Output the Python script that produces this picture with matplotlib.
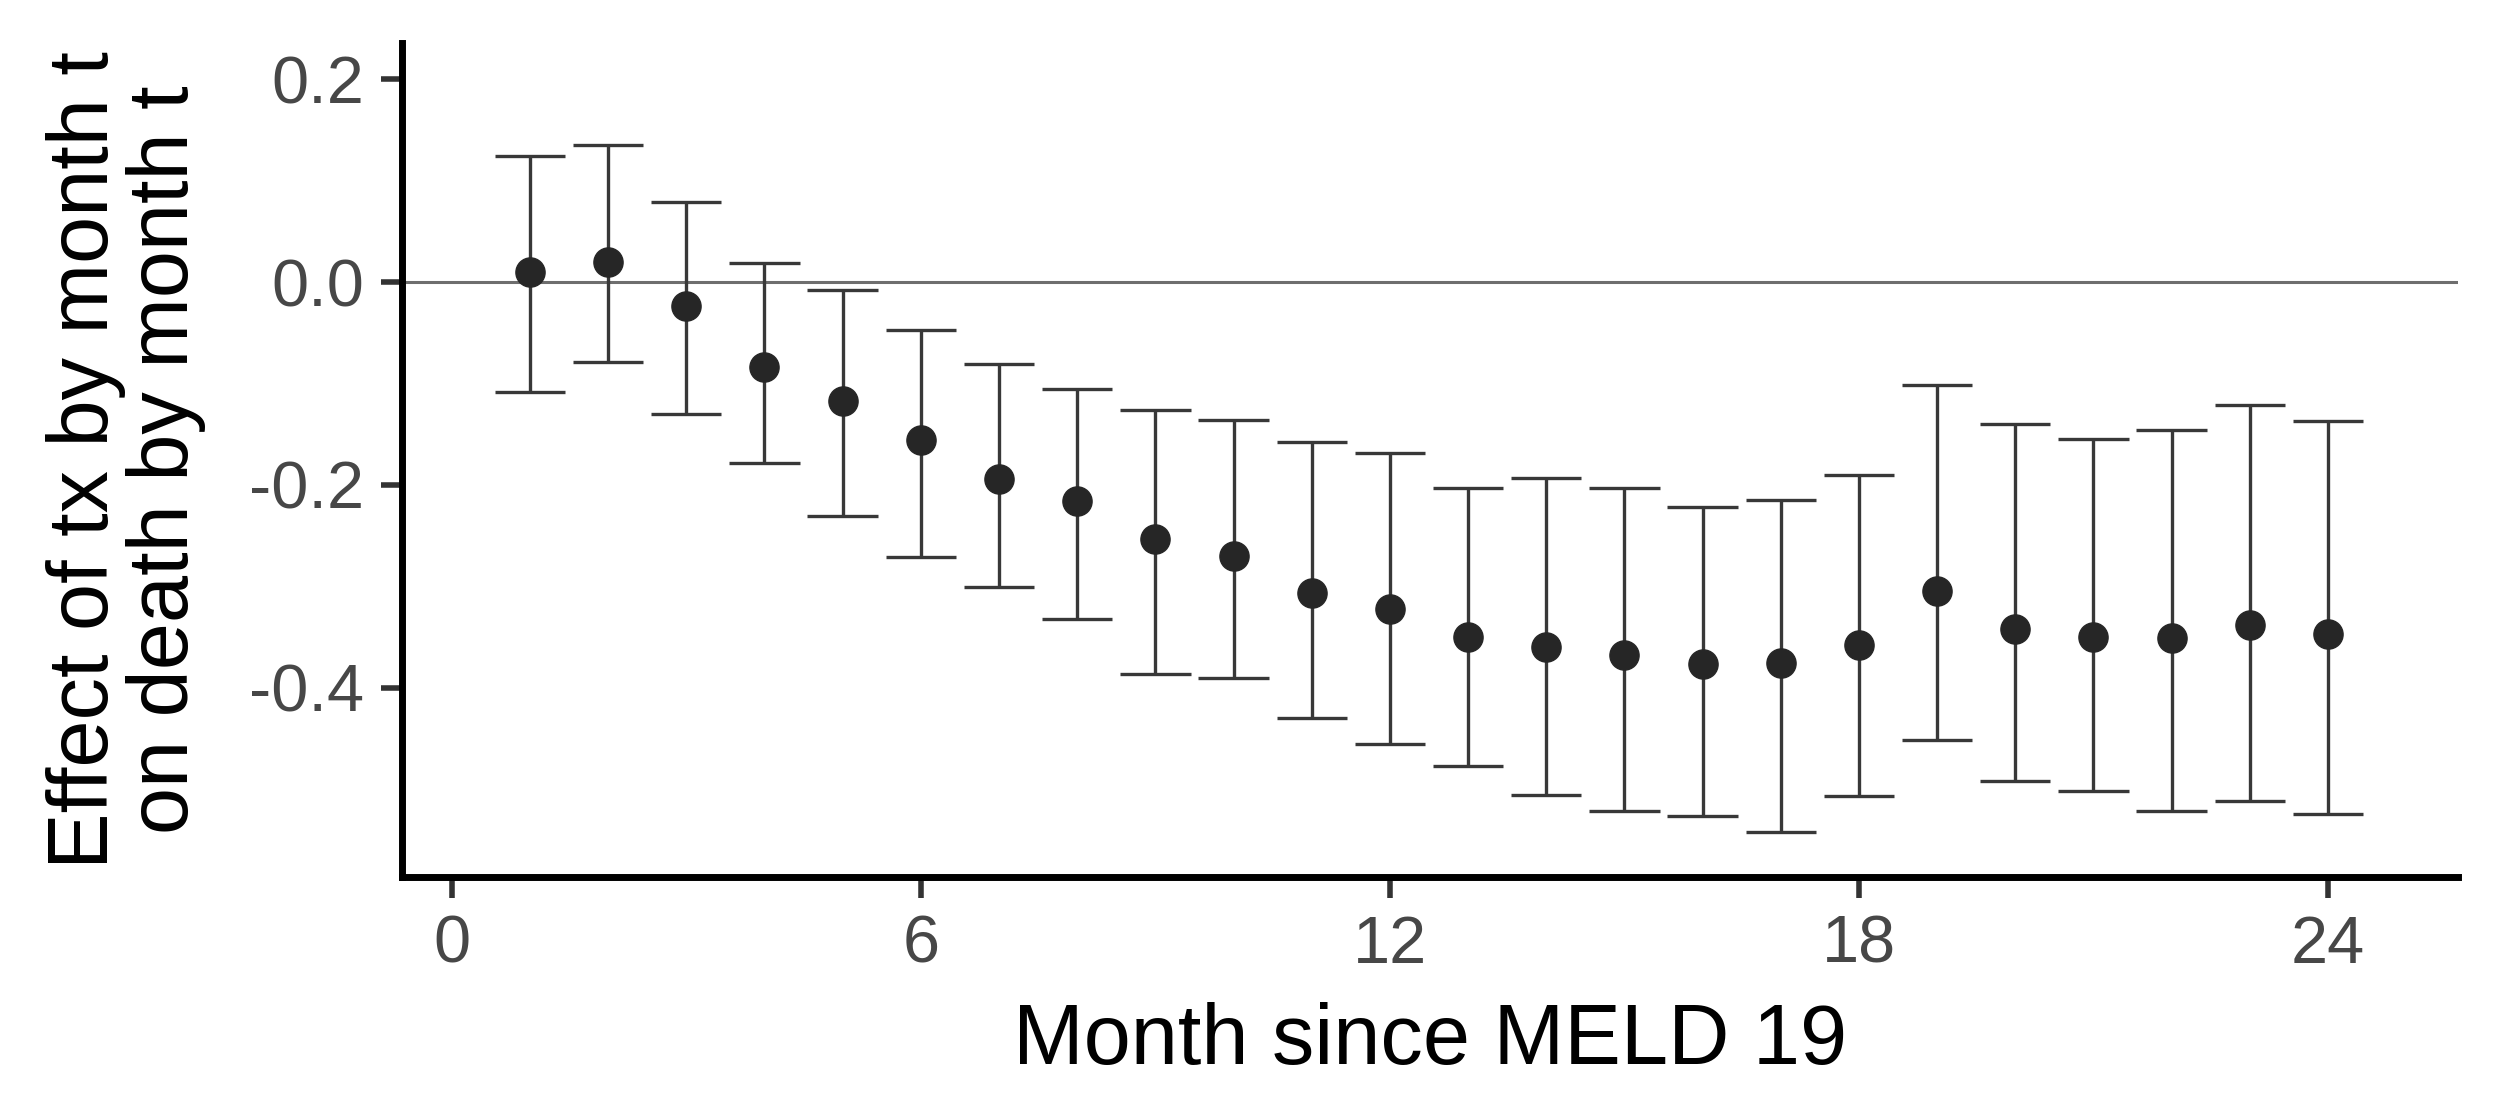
import numpy as np
import matplotlib.pyplot as plt

plt.rcParams['font.family'] = ['Liberation Sans', 'DejaVu Sans']

months = np.arange(1, 25)
estimate = [0.010, 0.020, -0.024, -0.084, -0.117, -0.156, -0.194, -0.216,
            -0.253, -0.270, -0.307, -0.323, -0.350, -0.360, -0.368, -0.377,
            -0.376, -0.358, -0.305, -0.342, -0.350, -0.351, -0.338, -0.347]
upper = [0.124, 0.135, 0.079, 0.019, -0.008, -0.047, -0.081, -0.105,
         -0.126, -0.136, -0.158, -0.169, -0.203, -0.193, -0.203, -0.222,
         -0.215, -0.190, -0.101, -0.140, -0.155, -0.146, -0.121, -0.137]
lower = [-0.108, -0.079, -0.130, -0.178, -0.231, -0.271, -0.301, -0.332,
         -0.387, -0.391, -0.430, -0.456, -0.477, -0.506, -0.522, -0.527,
         -0.543, -0.507, -0.452, -0.492, -0.502, -0.522, -0.512, -0.525]

x_ticks = [0, 6, 12, 18, 24]
y_ticks = [0.2, 0.0, -0.2, -0.4]

fig = plt.figure(figsize=(25, 11.11), dpi=100)
ax = fig.add_axes([0.1607, 0.2106, 0.8224, 0.7507])

ax.axhline(0, color='#6e6e6e', lw=2.2, zorder=1)

# error bars, caps 0.9 months wide like ggplot's default
ax.vlines(months, lower, upper, color='#383838', lw=2.4, zorder=2)
ax.hlines(upper, months - 0.45, months + 0.45, color='#383838', lw=2.4, zorder=2)
ax.hlines(lower, months - 0.45, months + 0.45, color='#383838', lw=2.4, zorder=2)
ax.plot(months, estimate, 'o', color='#262626', markersize=21, zorder=3)

ax.set_xlim(-0.64, 25.66)
ax.set_ylim(-0.587, 0.236)
ax.set_xticks(x_ticks)
ax.set_yticks(y_ticks)
ax.set_yticklabels(['0.2', '0.0', '-0.2', '-0.4'])

for s in ['top', 'right']:
    ax.spines[s].set_visible(False)
for s in ['left', 'bottom']:
    ax.spines[s].set_linewidth(5)
    ax.spines[s].set_color('black')

ax.tick_params(axis='both', length=15, width=4, color='#333333',
               labelsize=48, labelcolor='#474747', pad=12)

ax.set_xlabel('Month since MELD 19', fontsize=61, color='black', labelpad=18)
ax.set_ylabel('Effect of tx by month t\non death by month t', fontsize=61,
              color='black', va='center', linespacing=1.0)
ax.yaxis.set_label_coords(-0.134, 0.5)

fig.savefig('out.png', dpi=100, facecolor='white')
